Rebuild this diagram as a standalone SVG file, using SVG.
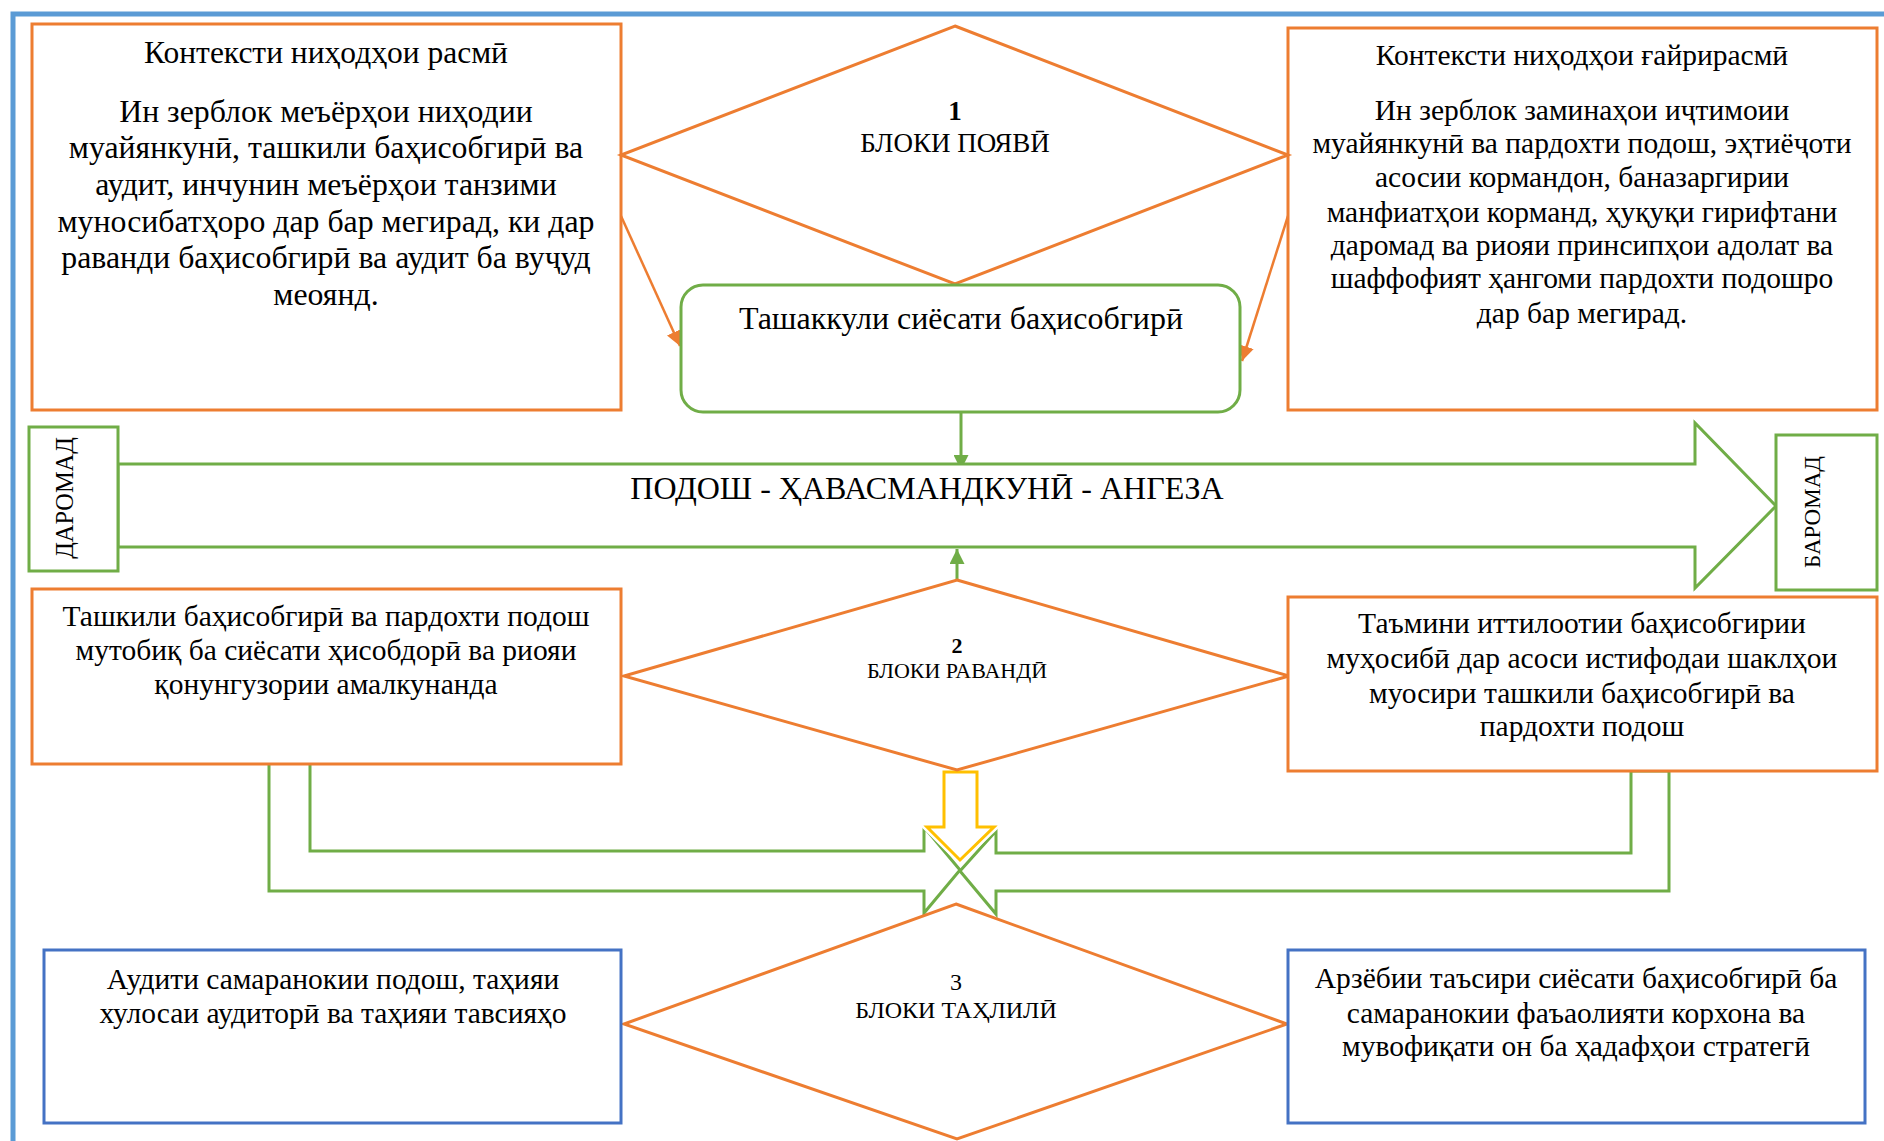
<svg xmlns="http://www.w3.org/2000/svg" width="1884" height="1141" viewBox="0 0 1884 1141">
<defs>
<style>
text{font-family:"Liberation Serif","Times New Roman",serif;fill:#000;text-anchor:middle}
.ob{fill:#fff;stroke:#ED7D31;stroke-width:3}
.bb{fill:#fff;stroke:#4472C4;stroke-width:3}
.gb{fill:#fff;stroke:#70AD47;stroke-width:3}
.gl{fill:none;stroke:#70AD47;stroke-width:3}
.ol{fill:none;stroke:#ED7D31;stroke-width:2.5}
.t{font-size:29.5px}
</style>
<marker id="ao" viewBox="0 0 10 10" refX="10" refY="5" markerWidth="6" markerHeight="6" markerUnits="strokeWidth" orient="auto"><path d="M0,0L10,5L0,10z" fill="#ED7D31"/></marker>
<marker id="ag" viewBox="0 0 10 10" refX="10" refY="5" markerWidth="5" markerHeight="5" markerUnits="strokeWidth" orient="auto"><path d="M0,0L10,5L0,10z" fill="#70AD47"/></marker>
</defs>
<rect width="1884" height="1141" fill="#fff"/>
<path d="M13,1141V14H1884" fill="none" stroke="#5B9BD5" stroke-width="5"/>

<g id="connectors">
<line class="ol" x1="621" y1="216" x2="680" y2="346" marker-end="url(#ao)"/>
<line class="ol" x1="1288" y1="216" x2="1242" y2="361" marker-end="url(#ao)"/>
<line class="gl" x1="961" y1="412" x2="961" y2="470" marker-end="url(#ag)"/>
<line class="gl" x1="957" y1="580" x2="957" y2="549" marker-end="url(#ag)"/>
<path class="gb" d="M269,763V891H924V913L960,870L924,827V851H310V763Z"/>
<path class="gb" d="M1669,771V891H996V914L960,871L996,831V853H1631V771Z"/>
<path d="M944,772V827H927L960,860L994,827H977V772Z" fill="#fff" stroke="#fff" stroke-width="8"/>
<path d="M944,772V827H927L960,860L994,827H977V772Z" fill="#fff" stroke="#FFC000" stroke-width="3"/>
</g>

<g id="main-arrow">
<path class="gb" d="M118,464H1695V423L1776,506L1695,588V547H118Z"/>
<text x="927" y="499" font-size="32">ПОДОШ - ҲАВАСМАНДКУНӢ - АНГЕЗА</text>
</g>

<g id="daromad">
<rect class="gb" x="29" y="427" width="89" height="144"/>
<text transform="translate(73,498) rotate(-90)" font-size="24.4">ДАРОМАД</text>
</g>
<g id="baromad">
<rect class="gb" x="1776" y="435" width="101" height="155"/>
<text transform="translate(1820,512) rotate(-90)" font-size="23">БАРОМАД</text>
</g>

<g id="formal-context">
<rect class="ob" x="32" y="24" width="589" height="386"/>
<text x="326" y="63" font-size="31.5">Контексти ниҳодҳои расмӣ</text>
<text font-size="31.8"><tspan x="326" y="122">Ин зерблок меъёрҳои ниҳодии</tspan><tspan x="326" y="158">муайянкунӣ, ташкили баҳисобгирӣ ва</tspan><tspan x="326" y="195">аудит, инчунин меъёрҳои танзими</tspan><tspan x="326" y="232">муносибатҳоро дар бар мегирад, ки дар</tspan><tspan x="326" y="268">раванди баҳисобгирӣ ва аудит ба вуҷуд</tspan><tspan x="326" y="305">меоянд.</tspan></text>
</g>

<g id="informal-context">
<rect class="ob" x="1288" y="28" width="589" height="382"/>
<text x="1582" y="65" font-size="29.5">Контексти ниҳодҳои ғайрирасмӣ</text>
<text class="t"><tspan x="1582" y="120">Ин зерблок заминаҳои иҷтимоии</tspan><tspan x="1582" y="153">муайянкунӣ ва пардохти подош, эҳтиёҷоти</tspan><tspan x="1582" y="187">асосии кормандон, баназаргирии</tspan><tspan x="1582" y="222">манфиатҳои корманд, ҳуқуқи гирифтани</tspan><tspan x="1582" y="255">даромад ва риояи принсипҳои адолат ва</tspan><tspan x="1582" y="288">шаффофият ҳангоми пардохти подошро</tspan><tspan x="1582" y="323">дар бар мегирад.</tspan></text>
</g>

<g id="block1">
<path class="ob" d="M955,26L1288,155L955,284L621,155Z"/>
<text x="955" y="120" font-size="27" font-weight="bold">1</text>
<text x="955" y="152" font-size="27">БЛОКИ ПОЯВӢ</text>
</g>

<g id="policy">
<rect class="gb" x="681" y="285" width="559" height="127" rx="22"/>
<text x="961" y="329" font-size="32">Ташаккули сиёсати баҳисобгирӣ</text>
</g>

<g id="block2">
<path class="ob" d="M957,580L1289,676L957,770L624,676Z"/>
<text x="957" y="653" font-size="22" font-weight="bold">2</text>
<text x="957" y="678" font-size="22">БЛОКИ РАВАНДӢ</text>
</g>

<g id="org-accounting">
<rect class="ob" x="32" y="589" width="589" height="175"/>
<text class="t"><tspan x="326" y="626">Ташкили баҳисобгирӣ ва пардохти подош</tspan><tspan x="326" y="660">мутобиқ ба сиёсати ҳисобдорӣ ва риояи</tspan><tspan x="326" y="694">қонунгузории амалкунанда</tspan></text>
</g>

<g id="info-support">
<rect class="ob" x="1288" y="597" width="589" height="174"/>
<text class="t"><tspan x="1582" y="633">Таъмини иттилоотии баҳисобгирии</tspan><tspan x="1582" y="668">муҳосибӣ дар асоси истифодаи шаклҳои</tspan><tspan x="1582" y="703">муосири ташкили баҳисобгирӣ ва</tspan><tspan x="1582" y="736">пардохти подош</tspan></text>
</g>

<g id="block3">
<path class="ob" d="M956,904L1287,1024L957,1139L624,1024Z"/>
<text x="956" y="990" font-size="24">3</text>
<text x="956" y="1018" font-size="24">БЛОКИ ТАҲЛИЛӢ</text>
</g>

<g id="audit">
<rect class="bb" x="44" y="950" width="577" height="173"/>
<text class="t"><tspan x="333" y="989">Аудити самаранокии подош, таҳияи</tspan><tspan x="333" y="1023">хулосаи аудиторӣ ва таҳияи тавсияҳо</tspan></text>
</g>

<g id="evaluation">
<rect class="bb" x="1288" y="950" width="577" height="173"/>
<text class="t"><tspan x="1576" y="988">Арзёбии таъсири сиёсати баҳисобгирӣ ба</tspan><tspan x="1576" y="1023">самаранокии фаъаолияти корхона ва</tspan><tspan x="1576" y="1056">мувофиқати он ба ҳадафҳои стратегӣ</tspan></text>
</g>
</svg>
